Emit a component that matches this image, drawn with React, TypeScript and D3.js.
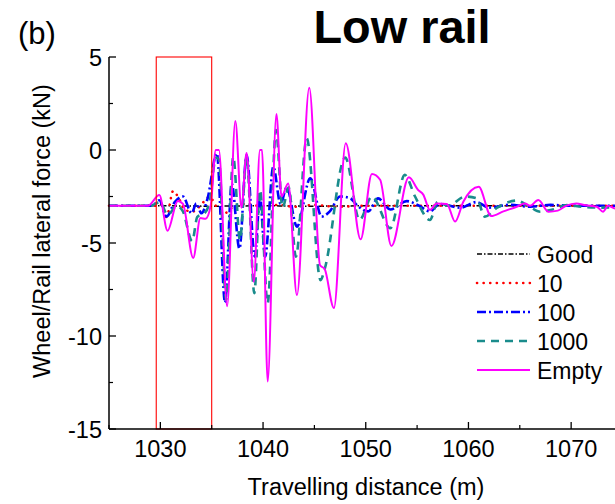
import React from "react";
import * as d3 from "d3";

// ---- data (travelling distance in m, lateral force in kN) ----
const goodX = [1025, 1030, 1035, 1040, 1045, 1050, 1060, 1075];
const goodY = [-3, -3, -3.02, -3, -3.02, -3, -3, -3];

const r10X = [1025, 1029.6, 1030.0, 1030.6, 1031.25, 1031.8, 1032.4, 1033.2, 1034.2, 1034.8, 1035.4, 1036.4, 1037.2, 1038.5, 1040, 1041.5, 1043, 1045, 1047, 1050, 1075];
const r10Y = [-3, -3, -2.9, -3.6, -2.2, -2.6, -3.23, -3.3, -2.8, -2.5, -3.0, -3.37, -3.0, -2.9, -3.05, -2.95, -3.05, -2.95, -3.05, -3.0, -3.0];

const r100X = [1025, 1029.2, 1029.9, 1030.6, 1031.4, 1032.2, 1033.05, 1033.5, 1034.0, 1034.6, 1035.5, 1036.3, 1036.95, 1037.7, 1038.4, 1039.2, 1039.7, 1040.2, 1041.0, 1041.7, 1042.3, 1043.3, 1044.6, 1045.7, 1046.5, 1047.5, 1048.5, 1049.2, 1050.25, 1051.2, 1052.4, 1054.0, 1055.2, 1056.25, 1057.2, 1059.2, 1060.8, 1062, 1064, 1066, 1068, 1070, 1075];
const r100Y = [-3, -3, -2.7, -3.58, -2.8, -2.5, -3.4, -2.87, -3.4, -2.6, -0.18, -8.2, -1.8, -5.3, -0.27, -5.74, -2.5, -5.74, -0.9, -2.9, -2.0, -4.12, -1.52, -3.58, -3.3, -2.5, -2.6, -3.0, -3.3, -2.6, -3.2, -2.75, -3.0, -3.3, -2.9, -3.1, -2.8, -3.1, -2.95, -3.05, -2.95, -3.0, -3.0];

const r1000X = [1025, 1029.0, 1030.0, 1030.7, 1031.6, 1032.2, 1033.1, 1033.6, 1034.3, 1034.8, 1035.4, 1035.7, 1036.4, 1037.1, 1037.75, 1038.4, 1039.15, 1039.7, 1040.45, 1041.26, 1041.9, 1042.5, 1043.2, 1044.25, 1045.6, 1046.0, 1048.0, 1049.4, 1050.6, 1052.4, 1053.8, 1054.8, 1056.25, 1057.0, 1058.0, 1059.7, 1060.8, 1061.6, 1062.8, 1064.7, 1065.8, 1067.0, 1068.2, 1069.6, 1071, 1073, 1075];
const r1000Y = [-3, -3, -2.8, -3.5, -3.0, -3.3, -4.9, -3.6, -3.4, -2.8, -0.4, -0.5, -8.06, -0.36, -4.84, -0.36, -7.7, -2.15, -8.24, 1.07, -3.1, -2.0, -5.74, 0.63, -7.0, -6.4, -0.4, -3.76, -2.5, -4.2, -1.34, -2.5, -3.76, -2.8, -3.0, -2.5, -2.6, -3.58, -3.1, -2.72, -3.0, -3.32, -3.2, -2.96, -3.05, -3.1, -3.05];

const emptyX = [1025, 1028.8, 1029.9, 1030.7, 1031.7, 1032.2, 1033.2, 1033.9, 1034.4, 1034.9, 1035.4, 1035.7, 1036.5, 1037.3, 1037.9, 1038.4, 1039.1, 1039.7, 1039.9, 1040.45, 1041.3, 1041.8, 1042.45, 1043.3, 1044.5, 1045.55, 1046.0, 1046.9, 1048.05, 1049.5, 1050.6, 1051.4, 1052.5, 1054.2, 1055.1, 1055.6, 1056.25, 1056.9, 1057.9, 1058.7, 1059.5, 1061.0, 1062.2, 1063.4, 1064.7, 1065.5, 1066.0, 1066.8, 1067.8, 1068.7, 1069.5, 1070.5, 1071.4, 1072.5, 1073.1, 1073.6, 1074.3, 1075];
const emptyY = [-3, -3, -2.42, -4.34, -2.74, -2.9, -5.8, -3.66, -3.7, -3.0, 0, 0, -8.4, 1.56, -3.1, -0.16, -7.08, 0, 0, -12.45, 1.94, -2.5, -1.8, -7.8, 3.35, -6.2, -6.4, -8.5, 0.36, -4.8, -1.29, -1.6, -5.16, -1.47, -2.15, -2.4, -3.23, -2.87, -2.9, -3.85, -2.78, -1.97, -3.55, -3.3, -3.05, -2.87, -3.0, -2.69, -3.32, -3.26, -3.0, -2.87, -2.97, -3.05, -3.32, -3.0, -3.15, -3.05];

const seriesNames = ["Good", "10", "100", "1000", "Empty"];
const xTicks = [1030, 1040, 1050, 1060, 1070];
const xMinorTicks = [1025, 1035, 1045, 1055, 1065];
const yTicks = [5, 0, -5, -10, -15];
const yMinorTicks = [2.5, -2.5, -7.5, -12.5];
const boxRange = [1029.6, 1035];

const styles = [
  { color: "#000000", width: 1.5, dash: "5 2 1.5 2", cap: "butt" },
  { color: "#ff0000", width: 2.6, dash: "0.1 6.5", cap: "round" },
  { color: "#0000ff", width: 2.6, dash: "9 3 2 3", cap: "butt" },
  { color: "#1a8c8c", width: 2.6, dash: "8 6", cap: "butt" },
  { color: "#ff00ff", width: 2, dash: "none", cap: "butt" },
];

const FONT = "'Liberation Sans', Arial, sans-serif";

export default function App() {
  const W = 615, H = 504;
  const left = 109, top = 57, bottom = 429;
  const x = d3.scaleLinear().domain([1025, 1075]).range([left, left + 513.5]);
  const y = d3.scaleLinear().domain([-15, 5]).range([bottom, top]);

  const data = [
    [goodX, goodY],
    [r10X, r10Y],
    [r100X, r100Y],
    [r1000X, r1000Y],
    [emptyX, emptyY],
  ];
  const line = d3
    .line<[number, number]>()
    .x((d) => x(d[0]))
    .y((d) => y(d[1]))
    .curve(d3.curveMonotoneX);

  const legendX1 = 477, legendX2 = 530, legendY0 = 254, legendDy = 29;

  return (
    <svg width={W} height={H} style={{ position: "absolute", left: 0, top: 0, background: "#fff" }} fontFamily={FONT}>
      <rect x={0} y={0} width={W} height={H} fill="#fff" />
      {/* labels */}
      <text x={18} y={44} fontSize={31}>(b)</text>
      <text x={402} y={42.5} fontSize={46} fontWeight="bold" textAnchor="middle" textLength={177} lengthAdjust="spacingAndGlyphs">Low rail</text>

      {/* series */}
      <g>
        {data.map(([xs, ys], i) => {
          const pts = xs.map((v, k) => [v, ys[k]] as [number, number]);
          const s = styles[i];
          return (
            <path
              key={i}
              d={line(pts) || ""}
              fill="none"
              stroke={s.color}
              strokeWidth={s.width}
              strokeDasharray={s.dash}
              strokeLinecap={s.cap as any}
              strokeLinejoin="round"
            />
          );
        })}
      </g>

      {/* red box */}
      <rect
        x={x(boxRange[0])}
        y={y(5)}
        width={x(boxRange[1]) - x(boxRange[0])}
        height={y(-15) - y(5)}
        fill="none"
        stroke="#ff0000"
        strokeWidth={1.1}
      />

      {/* axes */}
      <line x1={left} x2={left} y1={top} y2={bottom} stroke="#000" strokeWidth={1.5} />
      <line x1={left} x2={W} y1={bottom} y2={bottom} stroke="#000" strokeWidth={1.5} />
      {yTicks.map((t) => (
        <g key={"y" + t}>
          <line x1={left} x2={left + 7} y1={y(t)} y2={y(t)} stroke="#000" strokeWidth={1.3} />
          <text x={left - 7} y={y(t) + 8.5} fontSize={23.5} textAnchor="end">{t}</text>
        </g>
      ))}
      {yMinorTicks.map((t) => (
        <line key={"ym" + t} x1={left} x2={left + 4} y1={y(t)} y2={y(t)} stroke="#000" strokeWidth={1.2} />
      ))}
      {xTicks.map((t) => (
        <g key={"x" + t}>
          <line x1={x(t)} x2={x(t)} y1={bottom} y2={bottom - 7} stroke="#000" strokeWidth={1.3} />
          <text x={x(t)} y={bottom + 28} fontSize={23.5} textAnchor="middle">{t}</text>
        </g>
      ))}
      {xMinorTicks.map((t) => (
        <line key={"xm" + t} x1={x(t)} x2={x(t)} y1={bottom} y2={bottom - 4} stroke="#000" strokeWidth={1.2} />
      ))}

      <text x={366} y={495} fontSize={23.5} textAnchor="middle">Travelling distance (m)</text>
      <text transform={`translate(50, 231) rotate(-90)`} fontSize={23.5} textAnchor="middle">
        Wheel/Rail lateral force (kN)
      </text>

      {/* legend */}
      {seriesNames.map((n, i) => {
        const s = styles[i];
        const ly = legendY0 + i * legendDy;
        return (
          <g key={n}>
            <line x1={legendX1} x2={legendX2} y1={ly} y2={ly} stroke={s.color} strokeWidth={s.width} strokeDasharray={s.dash} strokeLinecap={s.cap as any} />
            <text x={537} y={ly + 8.5} fontSize={23}>{n}</text>
          </g>
        );
      })}
    </svg>
  );
}
